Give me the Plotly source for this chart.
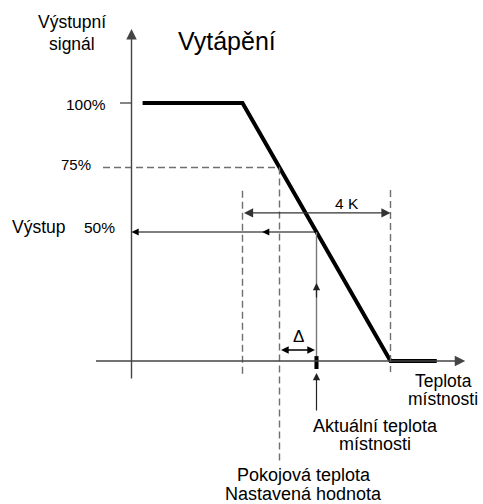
import plotly.graph_objects as go

# ---------------- data ----------------
ramp_temp = [-3.7, -1.0, 3.0, 4.25]      # room temperature relative to setpoint (K)
ramp_output = [100, 100, 0, 0]           # output signal (%)
band = [-1.0, 3.0]                       # 4 K proportional band
setpoint_temp = 0.0
setpoint_output = 75
actual_temp = 1.0
actual_output = 50
tick_labels = ["100%", "75%", "50%"]
band_label = "4 K"

# ---------------- layout constants ----------------
W, H = 483, 504
X0_PX, PX_PER_K = 279.5, 37.0
Y0_PX, PX_PER_PCT = 361.0, 2.58
FONT = "Liberation Sans, Arial, sans-serif"
AXIS_T = -4.0          # temperature where the output axis stands

x_range = [(0 - X0_PX) / PX_PER_K, (W - X0_PX) / PX_PER_K]
y_range = [(Y0_PX - H) / PX_PER_PCT, Y0_PX / PX_PER_PCT]

fig = go.Figure()

# heating characteristic
fig.add_trace(go.Scatter(x=ramp_temp, y=ramp_output, mode="lines",
                         line=dict(color="black", width=4), hoverinfo="skip",
                         showlegend=False))

shapes = []
ann = []


def arrow(x, y, ax, ay, color="#333", width=1.3, size=1.0, both=False):
    ann.append(dict(x=x, y=y, ax=ax, ay=ay, xref="x", yref="y", axref="x", ayref="y",
                    text="", showarrow=True, arrowhead=2, arrowsize=size,
                    arrowwidth=width, arrowcolor=color,
                    arrowside="end+start" if both else "end",
                    startarrowhead=2, startarrowsize=size,
                    standoff=0, startstandoff=0))


def dash(x0, y0, x1, y1):
    shapes.append(dict(type="line", xref="x", yref="y", x0=x0, y0=y0, x1=x1, y1=y1,
                       line=dict(color="#6f6f6f", width=1.4, dash="7px,4px")))


def line(x0, y0, x1, y1, color="#555", width=1.3):
    shapes.append(dict(type="line", xref="x", yref="y", x0=x0, y0=y0, x1=x1, y1=y1,
                       line=dict(color=color, width=width)))


def text(s, px, py, size, xanchor="center"):
    ann.append(dict(text=s, x=px / W, y=1 - py / H, xref="paper", yref="paper",
                    xanchor=xanchor, yanchor="middle", showarrow=False,
                    font=dict(family=FONT, size=size, color="black")))


# axes
arrow(AXIS_T, 128.7, AXIS_T, -7.4, color="#444", width=1.4, size=1.5)
arrow(5.02, 0, -5.0, 0, color="#444", width=1.4, size=1.5)
line(-4.31, ramp_output[0], AXIS_T, ramp_output[0], color="#444", width=1.3)

# dashed guides
dash(-4.77, setpoint_output, setpoint_temp, setpoint_output)
dash(setpoint_temp, setpoint_output, setpoint_temp, -39.5)
dash(band[0], 66.0, band[0], -5.4)
dash(band[1], 66.3, band[1], -4.3)

# 4 K band arrow
arrow(band[1], 57.4, band[0], 57.4, color="#333", width=1.4, size=1.3, both=True)

# 50 % output arrow
arrow(AXIS_T, actual_output, actual_temp, actual_output, color="black", width=1.2, size=1.2)
arrow(-0.47, actual_output, -0.25, actual_output, color="black", width=1.2, size=1.2)

# actual temperature vertical
line(actual_temp, actual_output, actual_temp, 1.9, color="#777", width=1.4)
arrow(actual_temp, 30.2, actual_temp, 24.0, color="#222", width=1.2, size=1.2)
shapes.append(dict(type="rect", xref="x", yref="y", x0=actual_temp - 0.055,
                   x1=actual_temp + 0.055, y0=-3.1, y1=1.9,
                   fillcolor="black", line=dict(width=0)))
arrow(actual_temp, -4.65, actual_temp, -19.8, color="#222", width=1.2, size=1.2)

# delta arrow
arrow(actual_temp - 0.04, 4.26, setpoint_temp, 4.26, color="black", width=1.4, size=1.1, both=True)

# texts
text("Výstupní", 72, 22, 17.5)
text("signál", 72, 43.5, 17.5)
text("Vytápění", 227, 41, 25)
text(tick_labels[0], 108, 104.4, 15.5, xanchor="right")
text(tick_labels[1], 93, 164.8, 15, xanchor="right")
text("Výstup", 10, 227.2, 17.5, xanchor="left")
text(tick_labels[2], 82, 228, 15.5, xanchor="left")
text(band_label, 347, 203.9, 15.5)
text("Δ", 298, 336, 17)
text("Teplota", 443, 380.6, 17.5)
text("místnosti", 443, 399, 17.5)
text("Aktuální teplota", 375, 425.6, 18)
text("místnosti", 375, 443.7, 18)
text("Pokojová teplota", 303.5, 475.4, 18)
text("Nastavená hodnota", 303.5, 494.4, 18)

fig.update_layout(
    width=W, height=H, margin=dict(l=0, r=0, t=0, b=0),
    paper_bgcolor="white", plot_bgcolor="white",
    xaxis=dict(range=x_range, visible=False, fixedrange=True),
    yaxis=dict(range=y_range, visible=False, fixedrange=True),
    shapes=shapes, annotations=ann, showlegend=False,
)

fig.write_html("out.html", config={"displayModeBar": False},
               post_script="document.body.style.margin='0';document.body.style.overflow='hidden';")
